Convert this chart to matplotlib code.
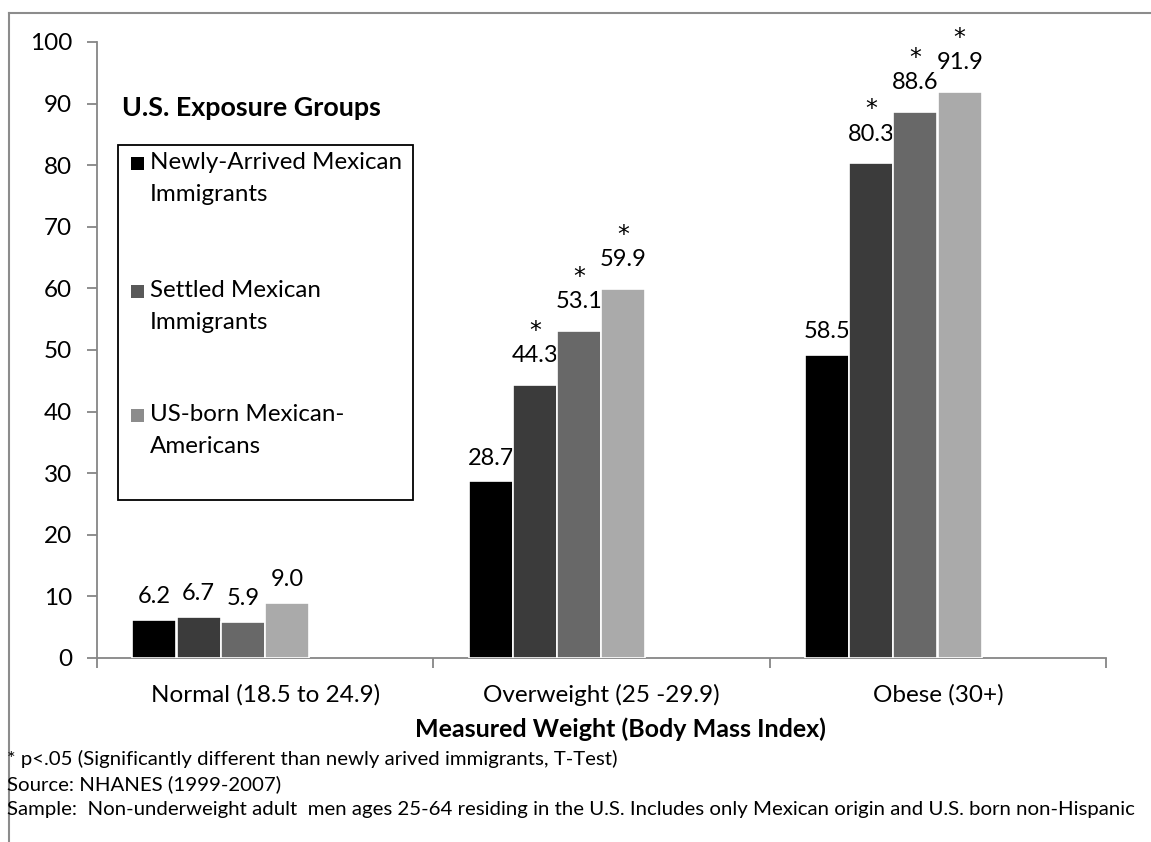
import matplotlib.pyplot as plt
from matplotlib.patches import Rectangle
from matplotlib.lines import Line2D
import numpy as np

plt.rcParams['font.family'] = ['Lato', 'DejaVu Sans']

categories = ["Normal (18.5 to 24.9)", "Overweight (25 -29.9)", "Obese (30+)"]
series_names = ["Newly-Arrived Mexican\nImmigrants", "Settled Mexican\nImmigrants",
                "US-born Mexican-\nAmericans"]
# labelled values
newly = [6.2, 28.7, 58.5]
settled = [6.7, 44.3, 80.3]
settled_b = [5.9, 53.1, 88.6]
usborn = [9.0, 59.9, 91.9]
# the source chart draws the obese "newly arrived" bar short of its label
newly_bar = [6.2, 28.7, 49.2]
signif = [[False, False, False], [False, True, True], [False, True, True], [False, True, True]]

values = [newly, settled, settled_b, usborn]
heights = [newly_bar, settled, settled_b, usborn]
bar_colors = ["#000000", "#3b3b3b", "#686868", "#aaaaaa"]
legend_colors = ["#000000", "#595959", "#8c8c8c"]

W, H = 1151, 842
fig = plt.figure(figsize=(W / 100, H / 100), dpi=100)


def fx(x):
    return x / W


def fy(y):
    return 1 - y / H


ax = fig.add_axes([fx(97), fy(658), (1106 - 97) / W, (658 - 42) / H])

x = np.arange(len(categories))
bw = 0.131
start = -0.395
for i, vals in enumerate(values):
    pos = x + start + i * (bw + 0.0005) + bw / 2
    bars = ax.bar(pos, heights[i], width=bw, color=bar_colors[i], edgecolor="white", linewidth=1.2, zorder=3)
    for j, b in enumerate(bars):
        cx = b.get_x() + b.get_width() / 2
        top = heights[i][j]
        off = 13.5 if signif[i][j] else 9
        ax.annotate("%.1f" % vals[j], (cx, top), xytext=(0, off),
                    textcoords="offset points", ha="center", va="bottom", fontsize=17)
        if signif[i][j]:
            ax.annotate("*", (cx, top), xytext=(0, off + 17),
                        textcoords="offset points", ha="center", va="bottom", fontsize=17,
                        family="DejaVu Sans")

ax.set_ylim(0, 100)
ax.set_yticks(range(0, 101, 10))
ax.set_xlim(-0.5, 2.5)
ax.set_xticks([-0.5, 0.5, 1.5, 2.5])
ax.set_xticklabels([])
ax.set_xticks(x, minor=True)
ax.set_xticklabels(categories, minor=True, fontsize=17.5)
ax.tick_params(axis="x", which="minor", length=0, pad=19)
ax.tick_params(axis="x", which="major", length=7, color="#868686", width=1.3)
ax.tick_params(axis="y", length=7, color="#868686", width=1.3, pad=11, labelsize=17.5)
for s in ["top", "right"]:
    ax.spines[s].set_visible(False)
for s in ["left", "bottom"]:
    ax.spines[s].set_color("#868686")
    ax.spines[s].set_linewidth(1.3)
ax.set_xlabel("Measured Weight (Body Mass Index)", fontsize=18, fontweight="bold", labelpad=8,
              x=(620 - 97) / (1106 - 97))

# legend block
fig.text(fx(122), fy(116), "U.S. Exposure Groups", fontsize=19.4, fontweight="bold", va="baseline")
fig.patches.append(Rectangle((fx(118), fy(500)), (413 - 118) / W, (500 - 145) / H,
                             transform=fig.transFigure, fill=False, edgecolor="black", linewidth=1.3))
baselines = [169, 297, 421]
for k, name in enumerate(series_names):
    b = baselines[k]
    fig.patches.append(Rectangle((fx(131), fy(b + 1)), 13 / W, 13 / H, transform=fig.transFigure,
                                 facecolor=legend_colors[k], edgecolor="none"))
    for m, line in enumerate(name.split("\n")):
        fig.text(fx(150), fy(b + 32 * m), line, fontsize=17.4, va="baseline")

# notes
notes = ["* p<.05 (Significantly different than newly arived immigrants, T-Test)",
         "Source: NHANES (1999-2007)",
         "Sample:  Non-underweight adult  men ages 25-64 residing in the U.S. Includes only Mexican origin and U.S. born non-Hispanic"]
for k, n in enumerate(notes):
    fig.text(fx(7), fy(759 + 25 * k), n, fontsize=14.7, va="center")

# outer frame
fig.lines.append(Line2D([fx(9), 1], [fy(13), fy(13)], transform=fig.transFigure, color="#8c8c8c", lw=1.5))
fig.lines.append(Line2D([fx(9), fx(9)], [fy(13), 0], transform=fig.transFigure, color="#8c8c8c", lw=1.5))

fig.savefig("out.png", dpi=100)
